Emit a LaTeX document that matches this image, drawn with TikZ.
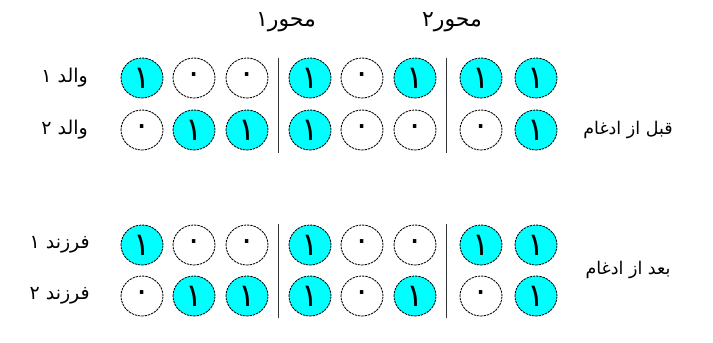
\documentclass[tikz,border=0pt]{standalone}
\usepackage{fontspec}
\usetikzlibrary{shapes.geometric}
\TeXXeTstate=1
\newfontfamily\arabicfont[Script=Arabic]{DejaVu Sans}
\definecolor{gene}{RGB}{0,255,255}
\tikzset{
  bit/.style={ellipse, draw=black, line width=0.85pt, dash pattern=on 2.4pt off 0.9pt,
    minimum width=42pt, minimum height=40pt, inner sep=0pt,
    font=\arabicfont\fontsize{32}{32}\selectfont},
  one/.style={bit, fill=gene},
  zero/.style={bit, fill=white},
  divider/.style={line width=0.9pt, black!80},
  lbl/.style={font=\arabicfont\fontsize{19}{22}\selectfont, inner sep=0pt},
  head/.style={font=\arabicfont\fontsize{22}{26}\selectfont, inner sep=0pt},
  side/.style={font=\arabicfont\fontsize{17.5}{20}\selectfont, inner sep=0pt}
}
\begin{document}
\begin{tikzpicture}[x=1pt,y=-1pt]
\useasboundingbox (0,0) rectangle (713,343);

% axis headings
\node[head] (ax1) at (286,22) {\beginR محور۱\endR};
\node[head] (ax2) at (452,22) {\beginR محور۲\endR};

% dividers between the axes
\coordinate (d1t) at (278,58);  \coordinate (d1b) at (278,153);
\coordinate (d2t) at (446,58);  \coordinate (d2b) at (446,153);
\coordinate (d3t) at (278,224); \coordinate (d3b) at (278,318);
\coordinate (d4t) at (446,224); \coordinate (d4b) at (446,318);
\draw[divider] (d1t) -- (d1b);
\draw[divider] (d2t) -- (d2b);
\draw[divider] (d3t) -- (d3b);
\draw[divider] (d4t) -- (d4b);

% row labels
\node[lbl, anchor=east] (p1) at (88,78)  {\beginR والد ۱\endR};
\node[lbl, anchor=east] (p2) at (88,130) {\beginR والد ۲\endR};
\node[lbl, anchor=east] (c1) at (90,245) {\beginR فرزند ۱\endR};
\node[lbl, anchor=east] (c2) at (90,296) {\beginR فرزند ۲\endR};
\node[side] (before) at (628,130) {\beginR قبل از ادغام\endR};
\node[side] (after)  at (628,270) {\beginR بعد از ادغام\endR};

% parent 1
\node[one]  (a1) at (142,78) {۱};
\node[zero] (a2) at (194,78) {۰};
\node[zero] (a3) at (247,78) {۰};
\node[one]  (a4) at (310,78) {۱};
\node[zero] (a5) at (362,78) {۰};
\node[one]  (a6) at (415,78) {۱};
\node[one]  (a7) at (481,78) {۱};
\node[one]  (a8) at (536,78) {۱};

% parent 2
\node[zero] (b1) at (142,130) {۰};
\node[one]  (b2) at (194,130) {۱};
\node[one]  (b3) at (247,130) {۱};
\node[one]  (b4) at (310,130) {۱};
\node[zero] (b5) at (362,130) {۰};
\node[zero] (b6) at (415,130) {۰};
\node[zero] (b7) at (481,130) {۰};
\node[one]  (b8) at (536,130) {۱};

% child 1
\node[one]  (e1) at (142,245) {۱};
\node[zero] (e2) at (194,245) {۰};
\node[zero] (e3) at (247,245) {۰};
\node[one]  (e4) at (310,245) {۱};
\node[zero] (e5) at (362,245) {۰};
\node[zero] (e6) at (415,245) {۰};
\node[one]  (e7) at (481,245) {۱};
\node[one]  (e8) at (536,245) {۱};

% child 2
\node[zero] (f1) at (142,296) {۰};
\node[one]  (f2) at (194,296) {۱};
\node[one]  (f3) at (247,296) {۱};
\node[one]  (f4) at (310,296) {۱};
\node[zero] (f5) at (362,296) {۰};
\node[one]  (f6) at (415,296) {۱};
\node[zero] (f7) at (481,296) {۰};
\node[one]  (f8) at (536,296) {۱};
\end{tikzpicture}
\end{document}
